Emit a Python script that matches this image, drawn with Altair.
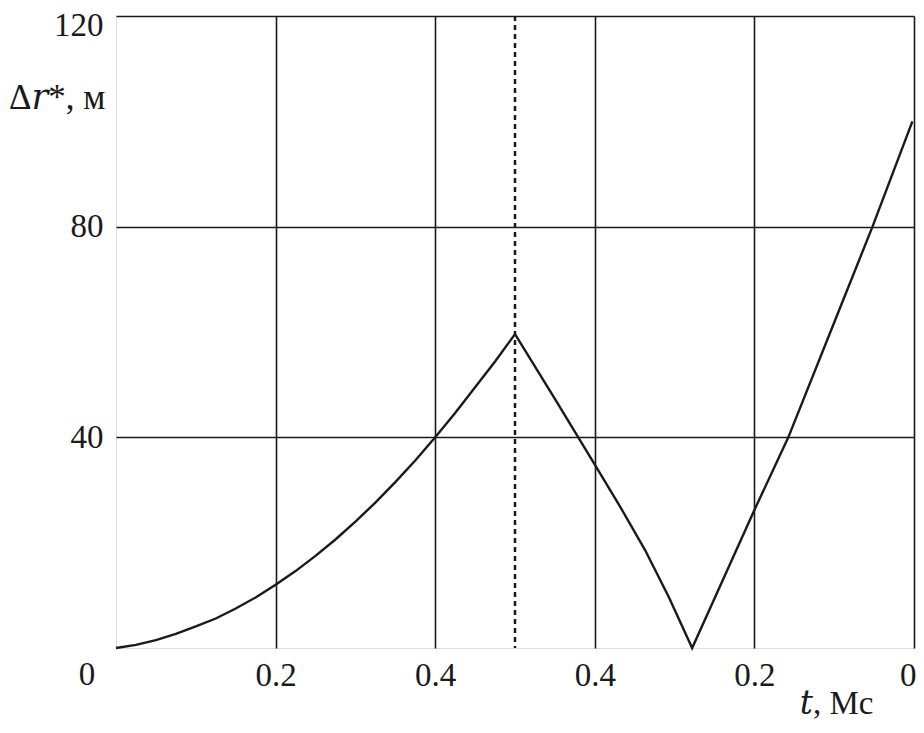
import altair as alt
import pandas as pd

# data (t on a 0..1 run, labels mirror after 0.5)
t_vals = [0, 0.025, 0.05, 0.075, 0.1, 0.125, 0.15, 0.175, 0.2, 0.225, 0.25,
          0.275, 0.3, 0.325, 0.35, 0.375, 0.4, 0.425, 0.45, 0.475, 0.5,
          0.55, 0.6, 0.633, 0.663, 0.693, 0.722,
          0.8, 0.8425, 0.9, 0.948, 0.998]
r_vals = [0, 0.6, 1.5, 2.7, 4.1, 5.6, 7.5, 9.6, 12, 14.6, 17.5,
          20.6, 24, 27.6, 31.5, 35.6, 40, 44.6, 49.5, 54.4, 59.6,
          47.3, 34.8, 26.5, 18.6, 9.6, 0,
          26.2, 40, 61.8, 80, 100]
x_ticks = [0.2, 0.4, 0.6, 0.8, 1.0]
x_tick_labels = ["0.2", "0.4", "0.4", "0.2", "0"]
y_ticks = [40, 80, 120]
split_t = [0.5]

df = pd.DataFrame({"t": t_vals, "r": r_vals, "i": list(range(len(t_vals)))})
lab_expr = " : ".join(
    [f"datum.value == {v} ? '{l}'" for v, l in zip(x_ticks, x_tick_labels)] + ["''"]
)

FONT = "'Liberation Serif', 'DejaVu Serif', serif"
FS = 33
INK = "#1a1a1a"

xscale = alt.Scale(domain=[0, 1.0], nice=False, zero=False)
yscale = alt.Scale(domain=[0, 120], nice=False)

line = alt.Chart(df).mark_line(color=INK, strokeWidth=2.4).encode(
    x=alt.X("t:Q", scale=xscale,
            axis=alt.Axis(values=x_ticks, labelExpr=lab_expr, grid=True,
                          gridColor=INK, gridWidth=1.6, gridOpacity=1,
                          ticks=False, domain=False, labelPadding=11,
                          labelFlush=True, labelFlushOffset=2,
                          labelFont=FONT, labelFontSize=FS, labelColor=INK,
                          title="𝑡, Мс", titleFont=FONT, titleFontSize=FS,
                          titleFontWeight="normal", titleColor=INK,
                          titleAlign="right", titleAnchor="start",
                          titleX=757, titleY=65, titleBaseline="alphabetic")),
    y=alt.Y("r:Q", scale=yscale,
            axis=alt.Axis(values=y_ticks, grid=True, gridColor=INK,
                          gridWidth=1.6, gridOpacity=1, ticks=False,
                          domain=False, labelPadding=13, labelFont=FONT,
                          labelFontSize=FS, labelColor=INK,
                          labelOffset={"condition": {"test": "datum.value == 120", "value": 9}, "value": 0},
                          title="Δ𝑟*, м", titleFont=FONT, titleFontSize=35,
                          titleFontWeight="normal", titleColor=INK,
                          titleAngle=0, titleAlign="right", titleAnchor="start",
                          titleX=-11, titleY=81, titleBaseline="middle")),
    order="i:Q",
)

rule = alt.Chart(pd.DataFrame({"t": split_t})).mark_rule(
    color=INK, strokeWidth=2.5, strokeDash=[5, 4]
).encode(x=alt.X("t:Q", scale=xscale))

origin = alt.Chart(pd.DataFrame({"t": [0], "r": [0], "txt": ["0"]})).mark_text(
    font=FONT, fontSize=FS, color=INK, dx=-29, dy=27, baseline="middle"
).encode(x=alt.X("t:Q", scale=xscale), y=alt.Y("r:Q", scale=yscale), text="txt:N")

chart = alt.layer(line, rule, origin).properties(
    width=798, height=632,
    autosize=alt.AutoSizeParams(type="none"),
    padding={"left": 108, "top": 8, "right": 2, "bottom": 71},
).configure_view(stroke=INK, strokeWidth=2.4).configure(background="white")

chart.save("out.html", embed_options={"renderer": "svg", "actions": False})
